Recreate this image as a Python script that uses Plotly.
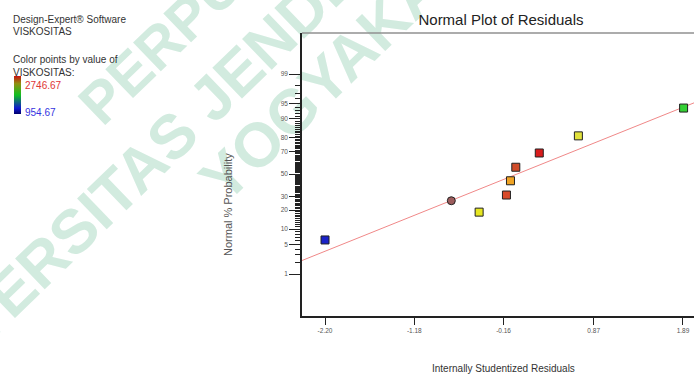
import plotly.graph_objects as go
from statistics import NormalDist

nd = NormalDist()

# ---- data ----
residuals = [-2.20, -0.757, -0.439, -0.127, -0.081, -0.020, 0.248, 0.695, 1.897]
prob_pct = [6.25, 26.7, 18.75, 31.25, 43.75, 56.25, 68.75, 81.25, 93.75]
point_colors = ['#1a22c8', '#9c5c5c', '#e6e620', '#d84a2a', '#f0a424',
                '#d04c2a', '#d81c1c', '#e2e23c', '#34d034']
point_symbols = ['square', 'circle', 'square', 'square', 'square',
                 'square', 'square', 'square', 'square']

fit_x = [-2.463, 2.016]
fit_pct = [2.21, 95.1]

x_tickvals = [-2.20, -1.18, -0.16, 0.87, 1.89]
x_ticktext = ['-2.20', '-1.18', '-0.16', '0.87', '1.89']
y_major_pct = [1, 5, 10, 20, 30, 50, 70, 80, 90, 95, 99]
y_minor_pct = list(range(1, 100))

visk_min, visk_max = 954.67, 2746.67

W, H = 694, 376
L, R, T, B = 302, 0, 33, 60


def z(p):
    return nd.inv_cdf(p / 100.0)


def px(xp):
    return (xp - L) / (W - L - R)


def py(yp):
    return (H - B - yp) / (H - T - B)


fig = go.Figure()

fig.add_trace(go.Scatter(
    x=fit_x, y=[z(p) for p in fit_pct], mode='lines',
    line=dict(color='#f08888', width=1), showlegend=False, hoverinfo='skip'))

fig.add_trace(go.Scatter(
    x=residuals, y=[z(p) for p in prob_pct], mode='markers',
    marker=dict(color=point_colors, symbol=point_symbols, size=8,
                line=dict(color='#222222', width=1)),
    showlegend=False))

# colour legend bar
fig.add_trace(go.Scatter(
    x=[None], y=[None], mode='markers', showlegend=False, hoverinfo='skip',
    marker=dict(color=[visk_min], cmin=visk_min, cmax=visk_max,
                colorscale=[[0, '#00006a'], [0.15, '#1018d0'], [0.5, '#10c020'],
                            [0.8, '#909010'], [1, '#c81010']],
                showscale=True,
                colorbar=dict(xref='container', yref='container',
                              x=14 / W, xanchor='left', y=1 - 101 / H, yanchor='top',
                              len=38, lenmode='pixels', thickness=7,
                              thicknessmode='pixels', showticklabels=False,
                              ticks='', outlinewidth=0, xpad=0, ypad=0))))

wm_lines = [("PERPUSTAKAAN", 257, -57, 58),
            ("UNIVERSITAS JENDERAL ACHMAD YANI", 322, -17, 62),
            ("YOGYAKARTA", 361, 36, 62)]
shapes = []
for txt, cx, cy, fs in wm_lines:
    shapes.append(dict(type='rect', xref='paper', yref='paper', layer='below',
                       x0=px(cx - 5), x1=px(cx + 5), y0=py(cy + 5), y1=py(cy - 5),
                       line=dict(width=0), fillcolor='rgba(0,0,0,0)',
                       label=dict(text='<b>' + txt + '</b>', textangle=-44,
                                  font=dict(family='Liberation Sans, Arial', size=fs,
                                            color='#d2ebdf'),
                                  textposition='middle center')))
shapes.append(dict(type='line', xref='paper', yref='paper', x0=0, x1=1, y0=1, y1=1,
                   line=dict(color='#909090', width=1.5)))

txt_font = dict(family='Liberation Sans, Arial', size=10, color='#333333')
annotations = [
    dict(text='Design-Expert® Software', x=px(11), y=py(19), xanchor='left', yanchor='middle', font=txt_font),
    dict(text='VISKOSITAS', x=px(11), y=py(32), xanchor='left', yanchor='middle', font=txt_font),
    dict(text='Color points by value of', x=px(11), y=py(59), xanchor='left', yanchor='middle', font=txt_font),
    dict(text='VISKOSITAS:', x=px(11), y=py(72), xanchor='left', yanchor='middle', font=txt_font),
    dict(text='%.2f' % visk_max, x=px(23), y=py(85), xanchor='left', yanchor='middle',
         font=dict(family='Liberation Sans, Arial', size=10, color='#e03535')),
    dict(text='%.2f' % visk_min, x=px(23), y=py(112), xanchor='left', yanchor='middle',
         font=dict(family='Liberation Sans, Arial', size=10, color='#3535e0')),
    dict(text='Normal % Probability', x=px(228), y=py(205), textangle=-90,
         xanchor='center', yanchor='middle',
         font=dict(family='Liberation Sans, Arial', size=11, color='#555555')),
    dict(text='Internally Studentized Residuals', x=px(503), y=py(368),
         xanchor='center', yanchor='middle',
         font=dict(family='Liberation Sans, Arial', size=10, color='#333333')),
]
for a in annotations:
    a.update(xref='paper', yref='paper', showarrow=False)

fig.update_layout(
    width=W, height=H, margin=dict(l=L, r=R, t=T, b=B, pad=0),
    paper_bgcolor='white', plot_bgcolor='white',
    title=dict(text='Normal Plot of Residuals', x=501 / W, xanchor='center',
               y=1 - 20 / H, yanchor='middle',
               font=dict(family='Liberation Sans, Arial', size=15, color='#222222')),
    xaxis=dict(range=[-2.463, 2.016], showgrid=False, zeroline=False,
               showline=True, linecolor='#222222', linewidth=1.5,
               tickmode='array', tickvals=x_tickvals, ticktext=x_ticktext,
               ticks='outside', ticklen=7, tickcolor='#222222', tickwidth=1,
               tickfont=dict(family='Liberation Sans, Arial', size=6.5, color='#555555')),
    yaxis=dict(range=[-3.303, 3.280], showgrid=False, zeroline=False,
               showline=True, linecolor='#222222', linewidth=1.5,
               tickmode='array', tickvals=[z(p) for p in y_major_pct],
               ticktext=[str(p) for p in y_major_pct],
               ticks='outside', ticklen=11, tickcolor='#222222', tickwidth=1,
               tickfont=dict(family='Liberation Sans, Arial', size=6.5, color='#555555'),
               minor=dict(tickmode='array', tickvals=[z(p) for p in y_minor_pct],
                          ticks='outside', ticklen=5, tickcolor='#222222', tickwidth=1)),
    shapes=shapes, annotations=annotations, showlegend=False,
)

fig.write_html("out.html")
